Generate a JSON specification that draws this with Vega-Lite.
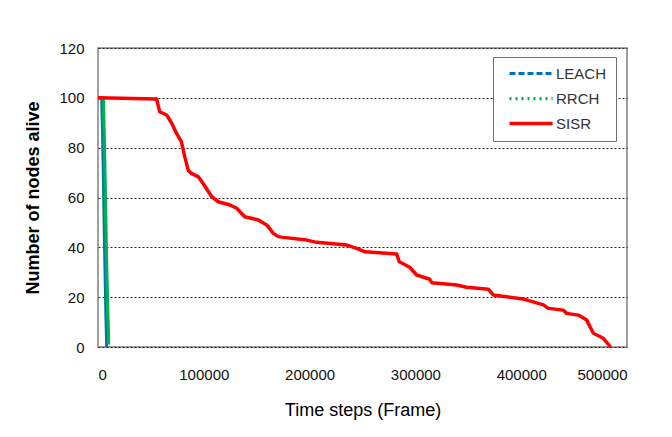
{
  "$schema": "https://vega.github.io/schema/vega-lite/v6.json",
  "width": 529,
  "height": 299,
  "autosize": "none",
  "padding": {"left": 98, "top": 48, "right": 45, "bottom": 90},
  "background": "white",
  "data": {
    "values": [
      {"series": "LEACH", "x": 0, "y": 100},
      {"series": "LEACH", "x": 3500, "y": 100},
      {"series": "LEACH", "x": 4300, "y": 85},
      {"series": "LEACH", "x": 5000, "y": 70},
      {"series": "LEACH", "x": 5600, "y": 55},
      {"series": "LEACH", "x": 6200, "y": 40},
      {"series": "LEACH", "x": 6900, "y": 25},
      {"series": "LEACH", "x": 7500, "y": 12},
      {"series": "LEACH", "x": 8000, "y": 4},
      {"series": "LEACH", "x": 8200, "y": 0},
      {"series": "RRCH", "x": 0, "y": 100},
      {"series": "RRCH", "x": 5000, "y": 100},
      {"series": "RRCH", "x": 6000, "y": 82},
      {"series": "RRCH", "x": 6900, "y": 62},
      {"series": "RRCH", "x": 7600, "y": 45},
      {"series": "RRCH", "x": 8400, "y": 28},
      {"series": "RRCH", "x": 9200, "y": 15},
      {"series": "RRCH", "x": 9800, "y": 6},
      {"series": "RRCH", "x": 10000, "y": 1},
      {"series": "SISR", "x": 0, "y": 100},
      {"series": "SISR", "x": 55500, "y": 99.5},
      {"series": "SISR", "x": 58300, "y": 94.4},
      {"series": "SISR", "x": 64900, "y": 93.1},
      {"series": "SISR", "x": 69700, "y": 89.8},
      {"series": "SISR", "x": 74100, "y": 85.8},
      {"series": "SISR", "x": 78800, "y": 82.4},
      {"series": "SISR", "x": 82000, "y": 76.4},
      {"series": "SISR", "x": 85400, "y": 70.8},
      {"series": "SISR", "x": 88300, "y": 69.7},
      {"series": "SISR", "x": 94800, "y": 68.3},
      {"series": "SISR", "x": 99200, "y": 65.7},
      {"series": "SISR", "x": 107500, "y": 60.3},
      {"series": "SISR", "x": 113700, "y": 58.3},
      {"series": "SISR", "x": 124800, "y": 57},
      {"series": "SISR", "x": 131100, "y": 55.7},
      {"series": "SISR", "x": 138700, "y": 52.3},
      {"series": "SISR", "x": 151500, "y": 51},
      {"series": "SISR", "x": 159500, "y": 49},
      {"series": "SISR", "x": 165700, "y": 45.6},
      {"series": "SISR", "x": 170400, "y": 44.3},
      {"series": "SISR", "x": 175100, "y": 44},
      {"series": "SISR", "x": 197300, "y": 42.9},
      {"series": "SISR", "x": 206700, "y": 42},
      {"series": "SISR", "x": 235100, "y": 40.9},
      {"series": "SISR", "x": 244500, "y": 39.6},
      {"series": "SISR", "x": 252400, "y": 38.2},
      {"series": "SISR", "x": 282300, "y": 37.3},
      {"series": "SISR", "x": 284800, "y": 34.2},
      {"series": "SISR", "x": 294600, "y": 32},
      {"series": "SISR", "x": 301200, "y": 28.9},
      {"series": "SISR", "x": 313500, "y": 27.2},
      {"series": "SISR", "x": 315400, "y": 25.8},
      {"series": "SISR", "x": 339000, "y": 24.9},
      {"series": "SISR", "x": 348400, "y": 24},
      {"series": "SISR", "x": 368900, "y": 23.2},
      {"series": "SISR", "x": 373600, "y": 20.9},
      {"series": "SISR", "x": 401700, "y": 19.3},
      {"series": "SISR", "x": 421000, "y": 16.9},
      {"series": "SISR", "x": 425600, "y": 15.5},
      {"series": "SISR", "x": 439800, "y": 14.8},
      {"series": "SISR", "x": 443000, "y": 13.5},
      {"series": "SISR", "x": 454000, "y": 12.8},
      {"series": "SISR", "x": 461900, "y": 10.8},
      {"series": "SISR", "x": 468200, "y": 5.5},
      {"series": "SISR", "x": 477600, "y": 3.5},
      {"series": "SISR", "x": 484500, "y": 0}
    ]
  },
  "mark": {"type": "line", "strokeCap": "butt", "strokeJoin": "round"},
  "encoding": {
    "x": {
      "field": "x",
      "type": "quantitative",
      "scale": {"domain": [0, 500000], "nice": false, "zero": true},
      "axis": {
        "values": [0, 100000, 200000, 300000, 400000, 500000],
        "format": "d",
        "title": "Time steps (Frame)",
        "grid": false,
        "ticks": false,
        "domain": false,
        "labelPadding": 20,
        "titlePadding": 19,
        "labelFont": "Liberation Sans",
        "labelFontSize": 15,
        "labelColor": "#111",
        "titleFont": "Liberation Sans",
        "titleFontSize": 18,
        "titleFontWeight": "normal",
        "titleColor": "#000"
      }
    },
    "y": {
      "field": "y",
      "type": "quantitative",
      "scale": {"domain": [0, 120], "nice": false},
      "axis": {
        "values": [0, 20, 40, 60, 80, 100, 120],
        "title": "Number of nodes alive",
        "grid": true,
        "gridColor": "#222",
        "gridDash": [2, 2],
        "gridWidth": 1,
        "ticks": false,
        "domain": false,
        "labelPadding": 14,
        "titlePadding": 16,
        "labelFont": "Liberation Sans",
        "labelFontSize": 15,
        "labelColor": "#111",
        "titleFont": "Liberation Sans",
        "titleFontSize": 18,
        "titleFontWeight": "bold",
        "titleColor": "#000"
      }
    },
    "color": {
      "field": "series",
      "type": "nominal",
      "scale": {"domain": ["LEACH", "RRCH", "SISR"], "range": ["#0070C0", "#00B050", "#FF0000"]},
      "legend": {
        "title": null,
        "orient": "none",
        "legendX": 395,
        "legendY": 9,
        "symbolType": "M0,0H8",
        "symbolSize": 116,
        "symbolFillColor": "transparent",
        "labelFont": "Liberation Sans",
        "labelFontSize": 15,
        "labelColor": "#333",
        "labelOffset": 39,
        "rowPadding": 9,
        "padding": 9,
        "strokeColor": "#707070",
        "fillColor": "white",
        "encode": {
          "symbols": {
            "update": {
              "fill": {"value": "transparent"},
              "strokeDash": {"signal": "datum.value == 'LEACH' ? [6, 3] : datum.value == 'RRCH' ? [2, 4] : [1, 0]"},
              "strokeWidth": {"signal": "datum.value == 'SISR' ? 4 : 3"}
            }
          }
        }
      }
    },
    "strokeWidth": {
      "field": "series",
      "type": "nominal",
      "scale": {"domain": ["LEACH", "RRCH", "SISR"], "range": [3, 3.5, 4]},
      "legend": null
    }
  },
  "config": {
    "view": {"stroke": "#808080", "strokeWidth": 1.5}
  }
}
